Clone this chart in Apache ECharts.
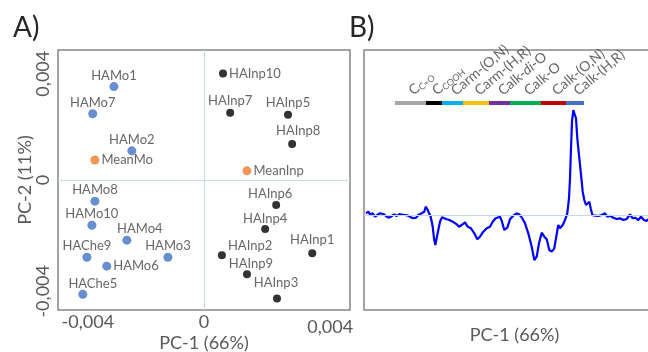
<!DOCTYPE html>
<html><head><meta charset="utf-8">
<script src="https://cdn.jsdelivr.net/npm/echarts@6/dist/echarts.min.js"></script>
<style>html,body{margin:0;padding:0;background:#fff}#c{width:648px;height:352px}</style>
</head><body><div id="c"></div>
<script>
// ---------- Panel A data (PCA scores) ----------
const moNames = ['HAMo1','HAMo7','HAMo2','HAMo8','HAMo10','HAMo4','HAChe9','HAMo6','HAMo3','HAChe5'];
const moPC1 = [-0.00327,-0.00404,-0.00262,-0.00396,-0.00407,-0.0028,-0.00425,-0.00353,-0.00131,-0.0044];
const moPC2 = [0.00388,0.00275,0.00121,-0.00088,-0.00188,-0.0025,-0.00321,-0.00358,-0.00321,-0.00475];
const inpNames = ['HAInp10','HAInp7','HAInp5','HAInp8','HAInp6','HAInp4','HAInp1','HAInp2','HAInp9','HAInp3'];
const inpPC1 = [0.00069,0.00095,0.00305,0.0032,0.00262,0.00222,0.00393,0.00065,0.00156,0.00265];
const inpPC2 = [0.00442,0.00279,0.00271,0.0015,-0.00104,-0.00204,-0.00304,-0.00313,-0.00392,-0.00492];
const meanNames = ['MeanMo','MeanInp'];
const meanPC1 = [-0.00396,0.00156];
const meanPC2 = [0.00083,0.00038];
const xTickVals = [-0.004, 0, 0.004];
const xTickLabels = ['-0,004','0','0,004'];
const yTickVals = [-0.004, 0, 0.004];
const yTickLabels = ['-0,004','0','0,004'];

// ---------- Panel B data (PC-1 loadings) ----------
const specX = [2,4.3,6,8.7,11,13.3,16,17.7,20,22.7,25.3,27.7,30.3,32.7,35.3,37.7,41,44.3,46.7,49.3,52,54.3,57.7,60.3,61.7,63.3,65,66.7,68.7,70,71.3,72.7,74.3,76,78,80,82.7,85.3,88.7,92.7,95,97.7,101,103.7,107,110.3,113.3,116,119.3,122.7,126,128.7,131.7,136,137.7,140.3,143.3,146,149.3,152.7,155,157.7,161,164.3,167.7,170.3,172.7,175,177.7,180.3,182.7,185.3,187.7,190.3,192,194.3,196,198.7,201,203.3,205,206,207,208,209.3,210.7,212,213.3,215,216.7,218.7,220.3,222,223.7,225.3,226.7,228.3,231,234.3,237.7,241,243.3,246,249.3,252.7,256,259.3,262.7,266,268.7,271,274.3,277,280,282.7,284];
const specY = [0.017,0.033,0.007,0.017,-0.017,0,0.017,0.033,0.007,-0.017,-0.027,-0.01,0.007,-0.01,0.01,0.003,0,-0.007,-0.023,-0.033,-0.027,0,0.017,0.033,0.083,0.057,0.057,-0.017,-0.117,-0.233,-0.3,-0.283,-0.15,-0.067,-0.023,-0.017,-0.043,-0.05,-0.067,-0.093,-0.117,-0.1,-0.073,-0.117,-0.133,-0.183,-0.243,-0.217,-0.167,-0.133,-0.117,-0.067,-0.033,-0.017,-0.057,-0.15,-0.127,-0.043,-0.007,0.017,0.007,-0.023,-0.083,-0.183,-0.317,-0.45,-0.417,-0.283,-0.177,-0.217,-0.243,-0.35,-0.367,-0.333,-0.233,-0.1,-0.133,-0.1,-0.05,0.017,0.167,0.367,0.667,0.933,1.05,1.067,0.967,0.767,0.6,0.433,0.233,0.15,0.1,0.117,0.133,0.067,0,-0.007,-0.01,0,0.017,-0.017,-0.007,-0.027,-0.04,-0.033,-0.05,-0.04,0.007,-0.033,-0.027,-0.05,-0.017,-0.05,-0.06,-0.04];
const segBounds = [31, 62, 78, 99, 125, 146, 177, 202, 220];
const segLabels = ['C{s|C=O}','C{s|COOH}','Carm-(O,N)','Carm-(H,R)','Calk-{i|di}-O','Calk-O','Calk-(O,N)','Calk-(H,R)'];
const barLevel = 1.12;

// ---------- styles ----------
const FONT = 'Lato';
const segColors = ['#a6a6a6','#000000','#00b0f0','#ffc000','#7030a0','#00b050','#c00000','#4472c4'];
const labelPlace = {
  MeanMo:['right',[0,0]], MeanInp:['right',[0,0]], HAInp10:['right',[0,0]], HAMo6:['right',[0,0]],
  HAInp2:['right',[0,-10]], HAMo4:['top',[13,0]], HAInp8:['top',[6,-3]], HAInp6:['top',[-6,-1]],
  HAInp9:['top',[4,0]], HAChe5:['top',[10,0]], HAInp3:['top',[-1,-5]], HAInp1:['top',[0,-3]],
  HAInp7:['top',[0,-2]], HAInp5:['top',[0,-1]]
};
function pts(names, xs, ys) {
  return names.map((n, i) => {
    const p = labelPlace[n] || ['top',[0,0]];
    return { name: n, value: [xs[i], ys[i]],
      label: { position: p[0], offset: p[1], distance: p[0] === 'right' ? 2 : 0 } };
  });
}
const ptLabel = { show: true, formatter: '{b}', color: '#404040', fontFamily: FONT, fontSize: 13 };
const axisTxt = { color: '#595959', fontFamily: FONT, fontSize: 18 };
const zeroLine = { color: '#c6d9f1', width: 1, type: 'solid' };

const chart = echarts.init(document.getElementById('c'), null, { renderer: 'canvas' });
chart.setOption({
  animation: false,
  backgroundColor: '#fff',
  title: [
    { text: 'A)', left: 8, top: 9, textStyle: { fontFamily: FONT, fontSize: 28, fontWeight: 'normal', color: '#262626' } },
    { text: 'B)', left: 344, top: 9, textStyle: { fontFamily: FONT, fontSize: 28, fontWeight: 'normal', color: '#262626' } }
  ],
  grid: [
    { left: 58, top: 50, width: 292, height: 260, outerBoundsMode: 'none', containLabel: false,
      show: true, borderColor: '#868686', borderWidth: 1.5, backgroundColor: 'transparent' },
    { left: 364, top: 50, width: 287, height: 260, outerBoundsMode: 'none', containLabel: false,
      show: true, borderColor: '#868686', borderWidth: 1.5, backgroundColor: 'transparent' }
  ],
  xAxis: [
    { gridIndex: 0, type: 'value', min: -0.0053, max: 0.0053,
      axisLine: { show: false }, axisTick: { show: false }, splitLine: { show: false },
      axisLabel: Object.assign({}, axisTxt, { customValues: xTickVals, margin: 3,
        formatter: v => { const i = xTickVals.findIndex(t => Math.abs(t - v) < 1e-9); return '{l' + i + '|' + xTickLabels[i] + '}'; },
        rich: { l0: { padding: [0, 12, 0, 0] }, l1: {}, l2: { padding: [5, 0, 0, 32] } } }),
      name: 'PC-1 (66%)', nameLocation: 'middle', nameGap: 24, nameMoveOverlap: false, nameTextStyle: axisTxt },
    { gridIndex: 1, type: 'value', min: 0, max: 287,
      axisLine: { show: false }, axisTick: { show: false }, splitLine: { show: false }, axisLabel: { show: false },
      name: 'PC-1 (66%)', nameLocation: 'middle', nameGap: 16, nameMoveOverlap: false,
      nameTextStyle: Object.assign({}, axisTxt, { padding: [0, 0, 0, 14] }) }
  ],
  yAxis: [
    { gridIndex: 0, type: 'value', min: -0.0054, max: 0.0054,
      axisLine: { show: false }, axisTick: { show: false }, splitLine: { show: false },
      axisLabel: Object.assign({}, axisTxt, { customValues: yTickVals, rotate: 90, margin: 6,
        formatter: v => { const i = yTickVals.findIndex(t => Math.abs(t - v) < 1e-9); return '{l' + i + '|' + yTickLabels[i] + '}'; },
        rich: { l0: { padding: [0, 30, 0, 0] }, l1: {}, l2: { padding: [0, 0, 0, 20] } } }),
      name: 'PC-2 (11%)', nameLocation: 'middle', nameGap: 24, nameRotate: 90, nameMoveOverlap: false, nameTextStyle: axisTxt },
    { gridIndex: 1, type: 'value', min: -0.95, max: 1.65,
      axisLine: { show: false }, axisTick: { show: false }, splitLine: { show: false }, axisLabel: { show: false } }
  ],
  series: [
    { type: 'scatter', xAxisIndex: 0, yAxisIndex: 0, symbolSize: 9, z: 3,
      itemStyle: { color: '#4472c4' }, label: ptLabel, data: pts(moNames, moPC1, moPC2),
      markLine: { silent: true, symbol: ['none','none'], label: { show: false }, lineStyle: zeroLine,
        data: [{ xAxis: 0 }, { yAxis: 0 }] } },
    { type: 'scatter', xAxisIndex: 0, yAxisIndex: 0, symbolSize: 8, z: 3,
      itemStyle: { color: '#000000' }, label: ptLabel, data: pts(inpNames, inpPC1, inpPC2) },
    { type: 'scatter', xAxisIndex: 0, yAxisIndex: 0, symbolSize: 9, z: 3,
      itemStyle: { color: '#ed7d31' }, label: ptLabel, data: pts(meanNames, meanPC1, meanPC2) },
    { type: 'line', xAxisIndex: 1, yAxisIndex: 1, showSymbol: false, z: 3,
      lineStyle: { color: '#0000ff', width: 2.2 }, data: specX.map((x, i) => [x, specY[i]]),
      markLine: { silent: true, symbol: ['none','none'], label: { show: false }, lineStyle: zeroLine, data: [{ yAxis: 0 }] } },
    ...segColors.map((c, i) => ({
      type: 'line', xAxisIndex: 1, yAxisIndex: 1, showSymbol: false, z: 4,
      lineStyle: { color: c, width: 4, cap: 'butt' },
      data: [[segBounds[i], barLevel], [segBounds[i + 1], barLevel]]
    })),
    { type: 'scatter', xAxisIndex: 1, yAxisIndex: 1, symbolSize: 0, z: 5,
      data: segLabels.map((t, i) => ({ name: t, value: [(segBounds[i] + segBounds[i + 1]) / 2, barLevel] })),
      label: { show: true, formatter: '{b}', position: [5, -5], align: 'left', verticalAlign: 'bottom', rotate: 40,
        color: '#404040', fontFamily: FONT, fontSize: 14,
        rich: { s: { fontSize: 9, fontFamily: FONT, color: '#404040', verticalAlign: 'bottom', padding: [6, 0, 0, 0] },
                i: { fontStyle: 'italic', fontSize: 14, fontFamily: FONT, color: '#404040' } } } }
  ]
});
</script></body></html>
